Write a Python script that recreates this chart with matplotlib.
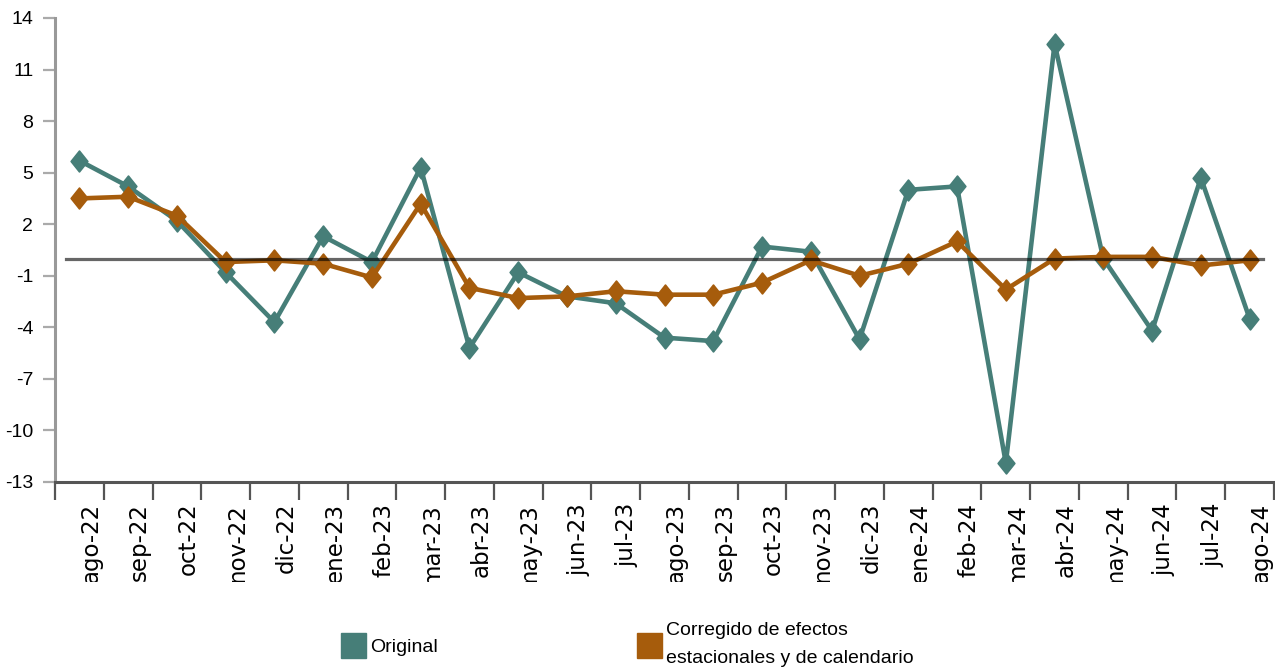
import numpy as np
import matplotlib
matplotlib.use('Agg')
import matplotlib.pyplot as plt
from matplotlib.patches import Rectangle
from matplotlib.path import Path
import matplotlib.transforms as mtransforms

plt.rcParams['font.family'] = ['Liberation Sans', 'DejaVu Sans']
plt.rcParams['axes.unicode_minus'] = False

meses = ['ago-22', 'sep-22', 'oct-22', 'nov-22', 'dic-22', 'ene-23', 'feb-23', 'mar-23',
         'abr-23', 'may-23', 'jun-23', 'jul-23', 'ago-23', 'sep-23', 'oct-23', 'nov-23',
         'dic-23', 'ene-24', 'feb-24', 'mar-24', 'abr-24', 'may-24', 'jun-24', 'jul-24', 'ago-24']
original = [5.7, 4.2, 2.2, -0.8, -3.7, 1.3, -0.2, 5.3, -5.2, -0.8, -2.2, -2.6, -4.6,
            -4.8, 0.7, 0.4, -4.7, 4.0, 4.2, -11.9, 12.5, 0.0, -4.2, 4.7, -3.5]
corregido = [3.5, 3.6, 2.5, -0.2, -0.1, -0.3, -1.1, 3.2, -1.7, -2.3, -2.2, -1.9, -2.1,
             -2.1, -1.4, -0.1, -1.0, -0.3, 1.0, -1.8, 0.0, 0.1, 0.1, -0.4, -0.1]
yticks = [-13, -10, -7, -4, -1, 2, 5, 8, 11, 14]
etiquetas = ['Original', 'Corregido de efectos\nestacionales y de calendario']
teal = '#467e78'
naranja = '#a65c0c'

W, H = 1275, 669
fig = plt.figure(figsize=(W / 100, H / 100), dpi=100)
ax = fig.add_axes([55 / W, 1 - 482 / H, (1274 - 55) / W, (482 - 18) / H])

# rombo un poco estrecho
rombo = Path([(0, 1), (0.8, 0), (0, -1), (-0.8, 0), (0, 1)],
             [Path.MOVETO, Path.LINETO, Path.LINETO, Path.LINETO, Path.CLOSEPOLY])

x = np.arange(len(meses))
ax.plot(x, original, color=teal, lw=3.3, marker=rombo, ms=15, mec=teal, mew=1.2, zorder=3)
ax.plot(x, corregido, color=naranja, lw=3.3, marker=rombo, ms=15, mec=naranja, mew=1.2, zorder=4)
ax.axhline(0, xmin=11 / 1219, xmax=1208 / 1219, color='black', alpha=0.6, lw=2.3, zorder=5)

ax.set_xlim(-0.5, len(meses) - 0.5)
ax.set_ylim(-13, 14)
ax.set_yticks(yticks)
ax.set_xticks(x)
ax.set_xticklabels(meses, rotation=90, fontsize=16.5, family='DejaVu Sans')
ax.set_xticks(np.arange(len(meses) + 1) - 0.5, minor=True)
ax.tick_params(axis='x', which='major', length=0, pad=15)
ax.tick_params(axis='x', which='minor', length=13, width=1.6, color='#555555')
ax.tick_params(axis='y', length=8.6, width=1.6, color='#aaaaaa', pad=7, labelsize=14)

for s in ['top', 'right']:
    ax.spines[s].set_visible(False)
ax.spines['left'].set_color('#999999')
ax.spines['left'].set_linewidth(2.2)
ax.spines['bottom'].set_color('#555555')
ax.spines['bottom'].set_linewidth(2.2)

offset = mtransforms.ScaledTranslation(11.6 / 100, 0, fig.dpi_scale_trans)
recorte = Rectangle((0, (H - 582) / H), 1, 1, transform=fig.transFigure)
for lbl in ax.get_xticklabels():
    lbl.set_transform(lbl.get_transform() + offset)
    lbl.set_clip_path(recorte)

# leyenda
fig.add_artist(Rectangle((341 / W, 1 - 658 / H), 25 / W, 25 / H, color=teal,
                         transform=fig.transFigure))
fig.text(370 / W, 1 - 652 / H, etiquetas[0], fontsize=14, va='baseline')
fig.add_artist(Rectangle((637 / W, 1 - 658 / H), 25 / W, 25 / H, color=naranja,
                         transform=fig.transFigure))
fig.text(666 / W, 1 - 622 / H, etiquetas[1], fontsize=14, va='top', linespacing=1.85)

fig.savefig('out.png', dpi=100)
